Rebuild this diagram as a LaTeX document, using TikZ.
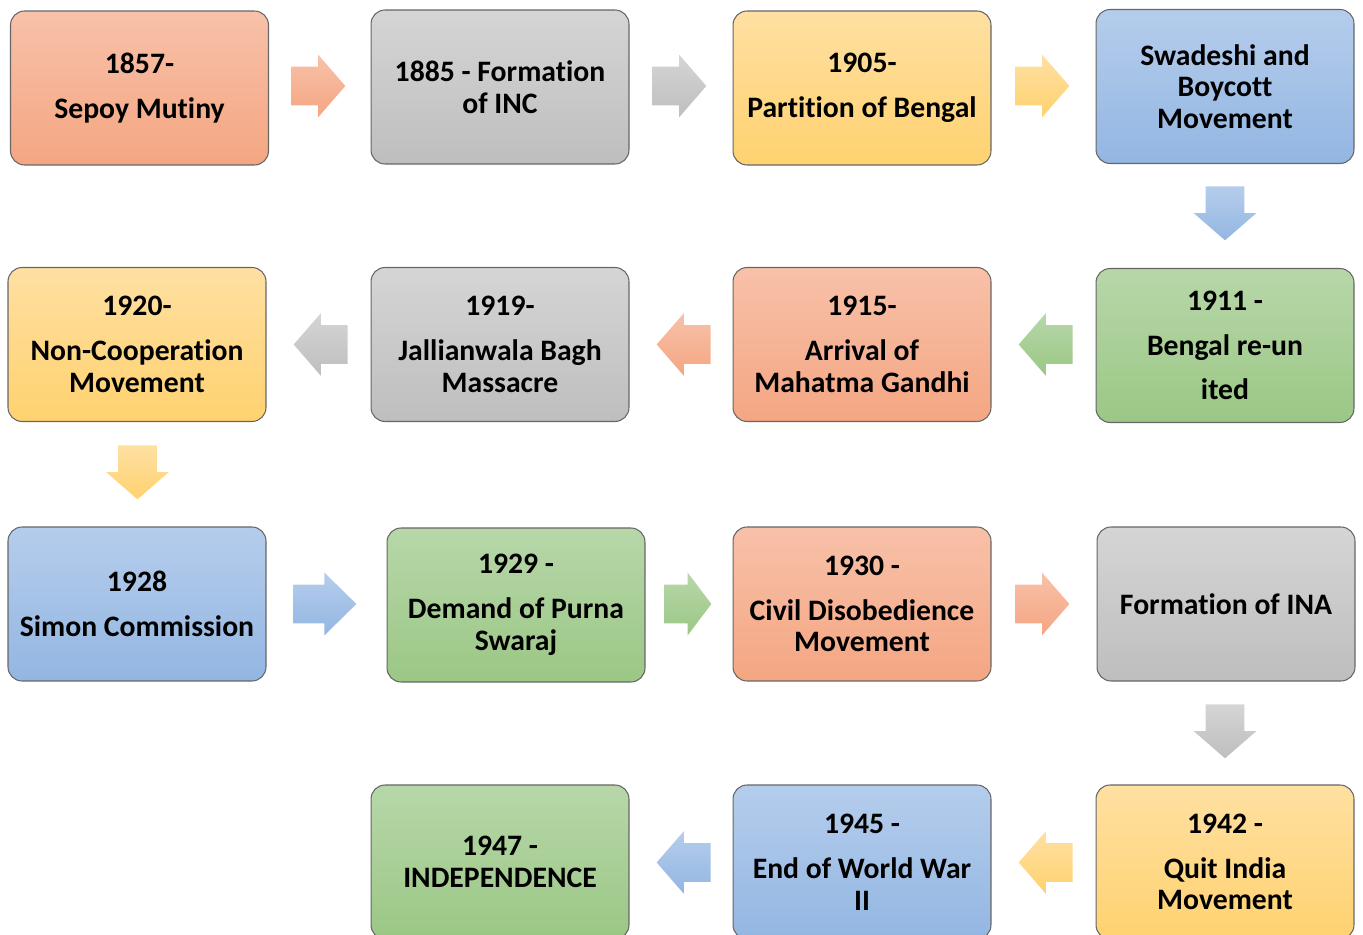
\documentclass[tikz,border=0pt]{standalone}
\usepackage{fontspec}
\setmainfont{Carlito}[Ligatures=NoCommon]
\usetikzlibrary{shapes.arrows}

\definecolor{orangetop}{RGB}{248,193,169}
\definecolor{orangebot}{RGB}{244,166,130}
\definecolor{graytop}{RGB}{213,213,213}
\definecolor{graybot}{RGB}{190,190,190}
\definecolor{yellowtop}{RGB}{255,224,162}
\definecolor{yellowbot}{RGB}{255,210,112}
\definecolor{bluetop}{RGB}{181,205,236}
\definecolor{bluebot}{RGB}{147,182,226}
\definecolor{greentop}{RGB}{183,215,169}
\definecolor{greenbot}{RGB}{155,199,133}

\begin{document}
\begin{tikzpicture}[x=0.02cm,y=-0.02cm]
\tikzstyle{event}=[draw=black!60,line width=0.6pt,rounded corners=0.28cm,minimum width=5.16cm,minimum height=3.08cm,align=center,font=\bfseries\fontsize{16.9}{18.1}\selectfont]
\tikzstyle{orangebox}=[event,top color=orangetop,bottom color=orangebot]
\tikzstyle{graybox}=[event,top color=graytop,bottom color=graybot]
\tikzstyle{yellowbox}=[event,top color=yellowtop,bottom color=yellowbot]
\tikzstyle{bluebox}=[event,top color=bluetop,bottom color=bluebot]
\tikzstyle{greenbox}=[event,top color=greentop,bottom color=greenbot]
\tikzstyle{blockarrow}=[single arrow,anchor=tail,inner xsep=0pt,inner ysep=0.38cm,minimum width=1.24cm,single arrow head extend=0.24cm,minimum height=1.08cm,single arrow tip angle=98]
\tikzstyle{downarrow}=[blockarrow,shape border rotate=270,inner xsep=0.38cm,inner ysep=0pt]
\useasboundingbox (0,0) rectangle (1363,935);
% row 1
\node[orangebox] (mutiny) at (139.5,88) {1857-\\[7.4pt] Sepoy Mutiny};
\node[graybox] (inc) at (500,87) {1885 - Formation\\ of INC};
\node[yellowbox] (partition) at (862,88) {1905-\\[7.4pt] Partition of Bengal};
\node[bluebox] (swadeshi) at (1225,86.5) {Swadeshi and\\ Boycott\\ Movement};
% row 2
\node[greenbox] (reunite) at (1225,345.5) {1911 -\\[7.4pt] Bengal re-un\\[7.4pt] ited};
\node[orangebox] (gandhi) at (862,344.5) {1915-\\[7.4pt] Arrival of\\ Mahatma Gandhi};
\node[graybox] (jallianwala) at (500,344.5) {1919-\\[7.4pt] Jallianwala Bagh\\ Massacre};
\node[yellowbox] (noncoop) at (137,344.5) {1920-\\[7.4pt] Non-Cooperation\\ Movement};
% row 3
\node[bluebox] (simon) at (137,604) {1928\\[7.4pt] Simon Commission};
\node[greenbox] (swaraj) at (516,605) {1929 -\\[7.4pt] Demand of Purna\\ Swaraj};
\node[orangebox] (civil) at (862,604) {1930 -\\[7.4pt] Civil Disobedience\\ Movement};
\node[graybox] (ina) at (1226,604) {Formation of INA};
% row 4
\node[yellowbox] (quit) at (1225,862) {1942 -\\[7.4pt] Quit India\\ Movement};
\node[bluebox] (worldwar) at (862,862) {1945 -\\[7.4pt] End of World War\\ II};
\node[greenbox] (independence) at (500,862) {1947 -\\ INDEPENDENCE};
% arrows
\node[blockarrow,top color=orangetop,bottom color=orangebot] (a1) at (291,86) {};
\node[blockarrow,top color=graytop,bottom color=graybot] (a2) at (652,86) {};
\node[blockarrow,top color=yellowtop,bottom color=yellowbot] (a3) at (1015,86) {};
\node[downarrow,top color=bluetop,bottom color=bluebot] (a4) at (1225,186) {};
\node[blockarrow,shape border rotate=180,top color=greentop,bottom color=greenbot] (a5) at (1073,344.5) {};
\node[blockarrow,shape border rotate=180,top color=orangetop,bottom color=orangebot] (a6) at (711,344.5) {};
\node[blockarrow,shape border rotate=180,top color=graytop,bottom color=graybot] (a7) at (348,344.5) {};
\node[downarrow,top color=yellowtop,bottom color=yellowbot] (a8) at (137.5,445) {};
\node[blockarrow,minimum height=1.26cm,single arrow tip angle=89,top color=bluetop,bottom color=bluebot] (a9) at (293,604) {};
\node[blockarrow,minimum height=0.94cm,single arrow tip angle=106,top color=greentop,bottom color=greenbot] (a10) at (664,604) {};
\node[blockarrow,top color=orangetop,bottom color=orangebot] (a11) at (1015,604) {};
\node[downarrow,top color=graytop,bottom color=graybot] (a12) at (1225,704) {};
\node[blockarrow,shape border rotate=180,top color=yellowtop,bottom color=yellowbot] (a13) at (1073,862.5) {};
\node[blockarrow,shape border rotate=180,top color=bluetop,bottom color=bluebot] (a14) at (711,862.5) {};
\end{tikzpicture}
\end{document}
